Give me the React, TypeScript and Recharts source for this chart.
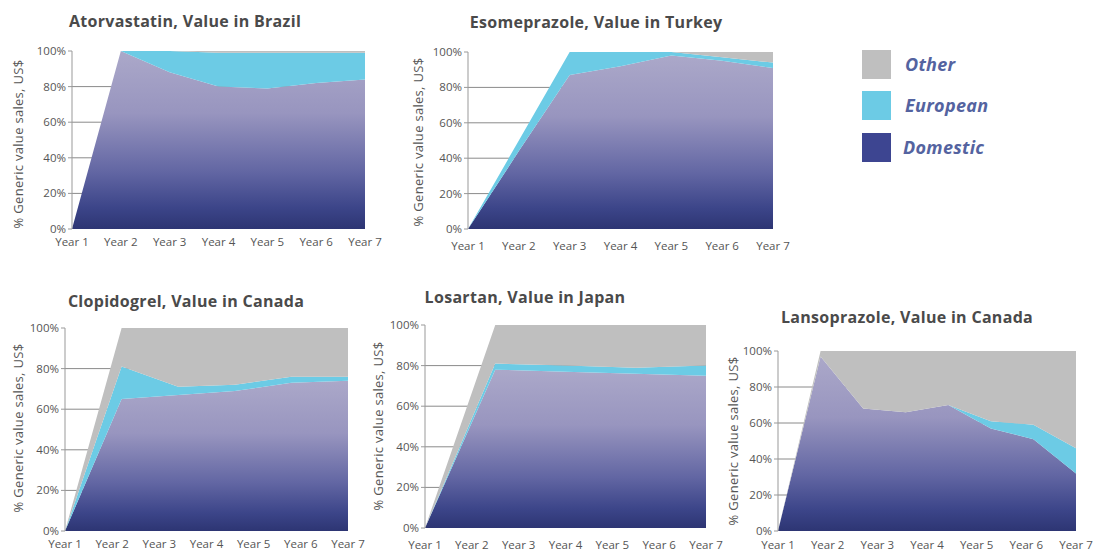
import React from 'react';
import { AreaChart, Area, XAxis, YAxis, CartesianGrid } from 'recharts';

const yearLabels = ['Year 1', 'Year 2', 'Year 3', 'Year 4', 'Year 5', 'Year 6', 'Year 7'];
const pctTicks = [0, 20, 40, 60, 80, 100];

// Atorvastatin, Brazil
const atorDomestic = [0, 100, 88, 80, 79, 82, 84];
const atorEuropean = [0, 0, 12, 19, 20, 17, 15];
const atorOther = [0, 0, 0, 1, 1, 1, 1];

// Esomeprazole, Turkey
const esoDomestic = [0, 44, 87, 92, 98, 95, 91];
const esoEuropean = [0, 6, 13, 8, 2, 2, 3];
const esoOther = [0, 0, 0, 0, 0, 3, 6];

// Clopidogrel, Canada
const clopDomestic = [0, 65, 67, 69, 73, 74];
const clopEuropean = [0, 16, 4, 3, 3, 2];
const clopOther = [0, 19, 29, 28, 24, 24];

// Losartan, Japan
const losDomestic = [0, 78, 77, 76, 75];
const losEuropean = [0, 3, 3, 3, 5];
const losOther = [0, 19, 20, 21, 20];

// Lansoprazole, Canada
const lansDomestic = [0, 97, 68, 66, 70, 57, 51, 32];
const lansEuropean = [0, 0, 0, 0, 0, 4, 8, 14];
const lansOther = [0, 3, 32, 34, 30, 39, 41, 54];

const C_DOM = '#3d4591';
const C_EUR = '#6ccbe5';
const C_OTH = '#bfbfbf';
const FONT = '"Open Sans", Lato, sans-serif';
const TXT = '#555';

type Panel = {
  title: string;
  domestic: number[];
  european: number[];
  other: number[];
  px: number; py: number; pw: number; ph: number;
  labelGap: number;
  titleX: number; titleY: number;
  axisLabelX: number; axisLabelY: number;
};

const panels: Panel[] = [
  { title: 'Atorvastatin, Value in Brazil', domestic: atorDomestic, european: atorEuropean, other: atorOther,
    px: 72, py: 51, pw: 293, ph: 178, labelGap: 7, titleX: 185, titleY: 21, axisLabelX: 18, axisLabelY: 144 },
  { title: 'Esomeprazole, Value in Turkey', domestic: esoDomestic, european: esoEuropean, other: esoOther,
    px: 468, py: 52, pw: 305, ph: 177, labelGap: 11, titleX: 596, titleY: 22, axisLabelX: 418, axisLabelY: 142 },
  { title: 'Clopidogrel, Value in Canada', domestic: clopDomestic, european: clopEuropean, other: clopOther,
    px: 65, py: 328, pw: 283, ph: 203, labelGap: 7, titleX: 186, titleY: 301, axisLabelX: 18, axisLabelY: 428 },
  { title: 'Losartan, Value in Japan', domestic: losDomestic, european: losEuropean, other: losOther,
    px: 425, py: 325, pw: 281, ph: 203, labelGap: 11, titleX: 525, titleY: 297, axisLabelX: 378, axisLabelY: 426 },
  { title: 'Lansoprazole, Value in Canada', domestic: lansDomestic, european: lansEuropean, other: lansOther,
    px: 778, py: 351, pw: 298, ph: 180, labelGap: 8, titleX: 907, titleY: 317, axisLabelX: 733, axisLabelY: 441 },
];

const Y_W = 50;
const M_TOP = 10;
const M_RIGHT = 30;
const X_H = 30;

function PanelChart({ p, idx }: { p: Panel; idx: number }) {
  const n = p.domestic.length;
  const data = p.domestic.map((d, i) => ({ x: i, domestic: d, european: p.european[i], other: p.other[i] }));
  const markTicks = p.domestic.map((_, i) => i);
  const labelTicks = yearLabels.map((_, k) => (k * (n - 1)) / 6);
  const gid = `domGrad${idx}`;
  return (
    <>
      <div style={{ position: 'absolute', left: p.titleX - 170, top: p.titleY - 11, width: 340, textAlign: 'center',
        fontFamily: FONT, fontWeight: 700, fontSize: 16, letterSpacing: 0.3, color: '#4a4a4a', lineHeight: '22px' }}>{p.title}</div>
      <div style={{ position: 'absolute', left: p.axisLabelX - 100, top: p.axisLabelY - 8, width: 200, textAlign: 'center',
        transform: 'rotate(-90deg)', fontFamily: FONT, fontSize: 13, letterSpacing: 0.3, color: TXT, lineHeight: '16px',
        whiteSpace: 'nowrap' }}>
        % Generic value sales, US$
      </div>
      <div style={{ position: 'absolute', left: p.px - Y_W, top: p.py - M_TOP }}>
        <AreaChart width={p.pw + Y_W + M_RIGHT} height={p.ph + M_TOP + X_H} data={data}
          margin={{ top: M_TOP, right: M_RIGHT, left: 0, bottom: 0 }}>
          <defs>
            <linearGradient id={gid} x1="0" y1="0" x2="0" y2="1">
              <stop offset="0%" stopColor="#aba8c9" />
              <stop offset="35%" stopColor="#9895bf" />
              <stop offset="68%" stopColor="#6266a3" />
              <stop offset="88%" stopColor="#3c4589" />
              <stop offset="100%" stopColor="#2d3573" />
            </linearGradient>
          </defs>
          <CartesianGrid vertical={false} horizontalValues={[20, 40, 60, 80]} stroke="#8a8a8a" />
          <XAxis xAxisId="marks" type="number" dataKey="x" domain={[0, n - 1]} ticks={markTicks} height={0}
            tickSize={5} tickFormatter={() => ''} stroke="#999" />
          <XAxis xAxisId="labels" type="number" dataKey="x" domain={[0, n - 1]} ticks={labelTicks} interval={0}
            height={X_H} axisLine={false} tickLine={false} tickSize={p.labelGap}
            tickFormatter={(_v: number, i: number) => yearLabels[i]}
            tick={{ fill: TXT, fontSize: 11.5, fontFamily: FONT }} />
          <YAxis type="number" domain={[0, 100]} ticks={pctTicks} width={Y_W} tickSize={4} stroke="#999"
            tickFormatter={(v: number) => `${v}%`} tick={{ fill: TXT, fontSize: 11.5, fontFamily: FONT }} />
          <Area xAxisId="marks" type="linear" dataKey="domestic" stackId="s" fill={`url(#${gid})`} fillOpacity={1}
            stroke="none" isAnimationActive={false} />
          <Area xAxisId="marks" type="linear" dataKey="european" stackId="s" fill={C_EUR} fillOpacity={1}
            stroke="none" isAnimationActive={false} />
          <Area xAxisId="marks" type="linear" dataKey="other" stackId="s" fill={C_OTH} fillOpacity={1}
            stroke="none" isAnimationActive={false} />
        </AreaChart>
      </div>
    </>
  );
}

const legendItems = [
  { name: 'Other', color: C_OTH, top: 50, textLeft: 905 },
  { name: 'European', color: C_EUR, top: 91, textLeft: 905 },
  { name: 'Domestic', color: C_DOM, top: 133, textLeft: 903 },
];

export default function App() {
  return (
    <div style={{ position: 'absolute', left: 0, top: 0, width: 1098, height: 552, background: '#fff', overflow: 'hidden' }}>
      {panels.map((p, i) => <PanelChart key={p.title} p={p} idx={i} />)}
      {legendItems.map((it) => (
        <React.Fragment key={it.name}>
          <div style={{ position: 'absolute', left: 862, top: it.top, width: 29, height: 29, background: it.color }} />
          <div style={{ position: 'absolute', left: it.textLeft, top: it.top + 2, fontFamily: FONT, fontWeight: 700,
            fontStyle: 'italic', fontSize: 18, letterSpacing: 0.3, color: '#5463a0', lineHeight: '24px' }}>{it.name}</div>
        </React.Fragment>
      ))}
    </div>
  );
}
